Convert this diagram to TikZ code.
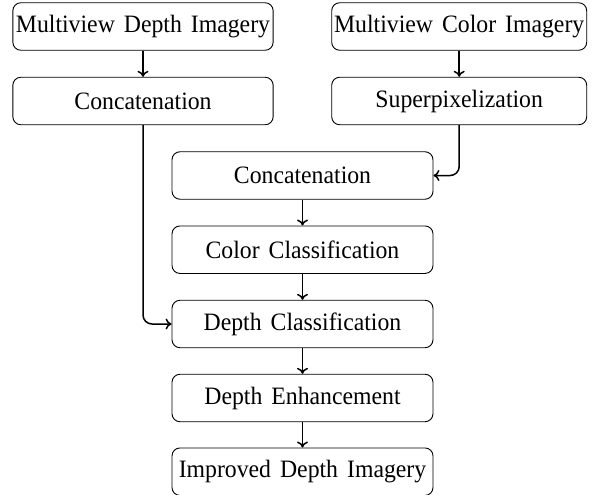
\documentclass[tikz,border=0pt]{standalone}
\usepackage{fontspec}
\setmainfont[FakeStretch=0.95]{Liberation Serif}
\usetikzlibrary{arrows.meta}
\newcommand{\myboxfont}{\fontsize{25}{29}\selectfont\spaceskip=9pt plus 2pt\relax}
\begin{document}
\begin{tikzpicture}[x=1pt,y=1pt,
  box/.style={draw, line width=0.9pt, rounded corners=8pt, minimum height=47.5pt, inner sep=0pt,
    font=\myboxfont},
  flow/.style={draw, line width=1.5pt, -{To[length=6pt,width=11pt]}, rounded corners=9pt}]
\useasboundingbox (0,0) rectangle (595,-495);
\node[box, minimum width=260.3pt] (mdi) at (143,-26.5) {Multiview Depth Imagery};
\node[box, minimum width=255pt] (mci) at (459.2,-26.5) {Multiview Color Imagery};
\node[box, minimum width=260.3pt] (cat1) at (143,-101) {Concatenation};
\node[box, minimum width=255pt] (sp) at (459.2,-101) {Superpixelization};
\node[box, minimum width=261pt] (cat2) at (302.5,-175.5) {Concatenation};
\node[box, minimum width=261pt] (cc) at (302.5,-249.7) {Color Classification};
\node[box, minimum width=261pt] (dc) at (302.5,-324) {Depth Classification};
\node[box, minimum width=261pt] (de) at (302.5,-398) {Depth Enhancement};
\node[box, minimum width=261pt] (idi) at (302.5,-471.7) {Improved Depth Imagery};
\draw[flow] (mdi) -- (cat1);
\draw[flow] (mci) -- (sp);
\draw[flow] (cat1.south) |- (dc.west);
\draw[flow] (sp.south) |- (cat2.east);
\draw[flow] (cat2) -- (cc);
\draw[flow] (cc) -- (dc);
\draw[flow] (dc) -- (de);
\draw[flow] (de) -- (idi);
\end{tikzpicture}
\end{document}
